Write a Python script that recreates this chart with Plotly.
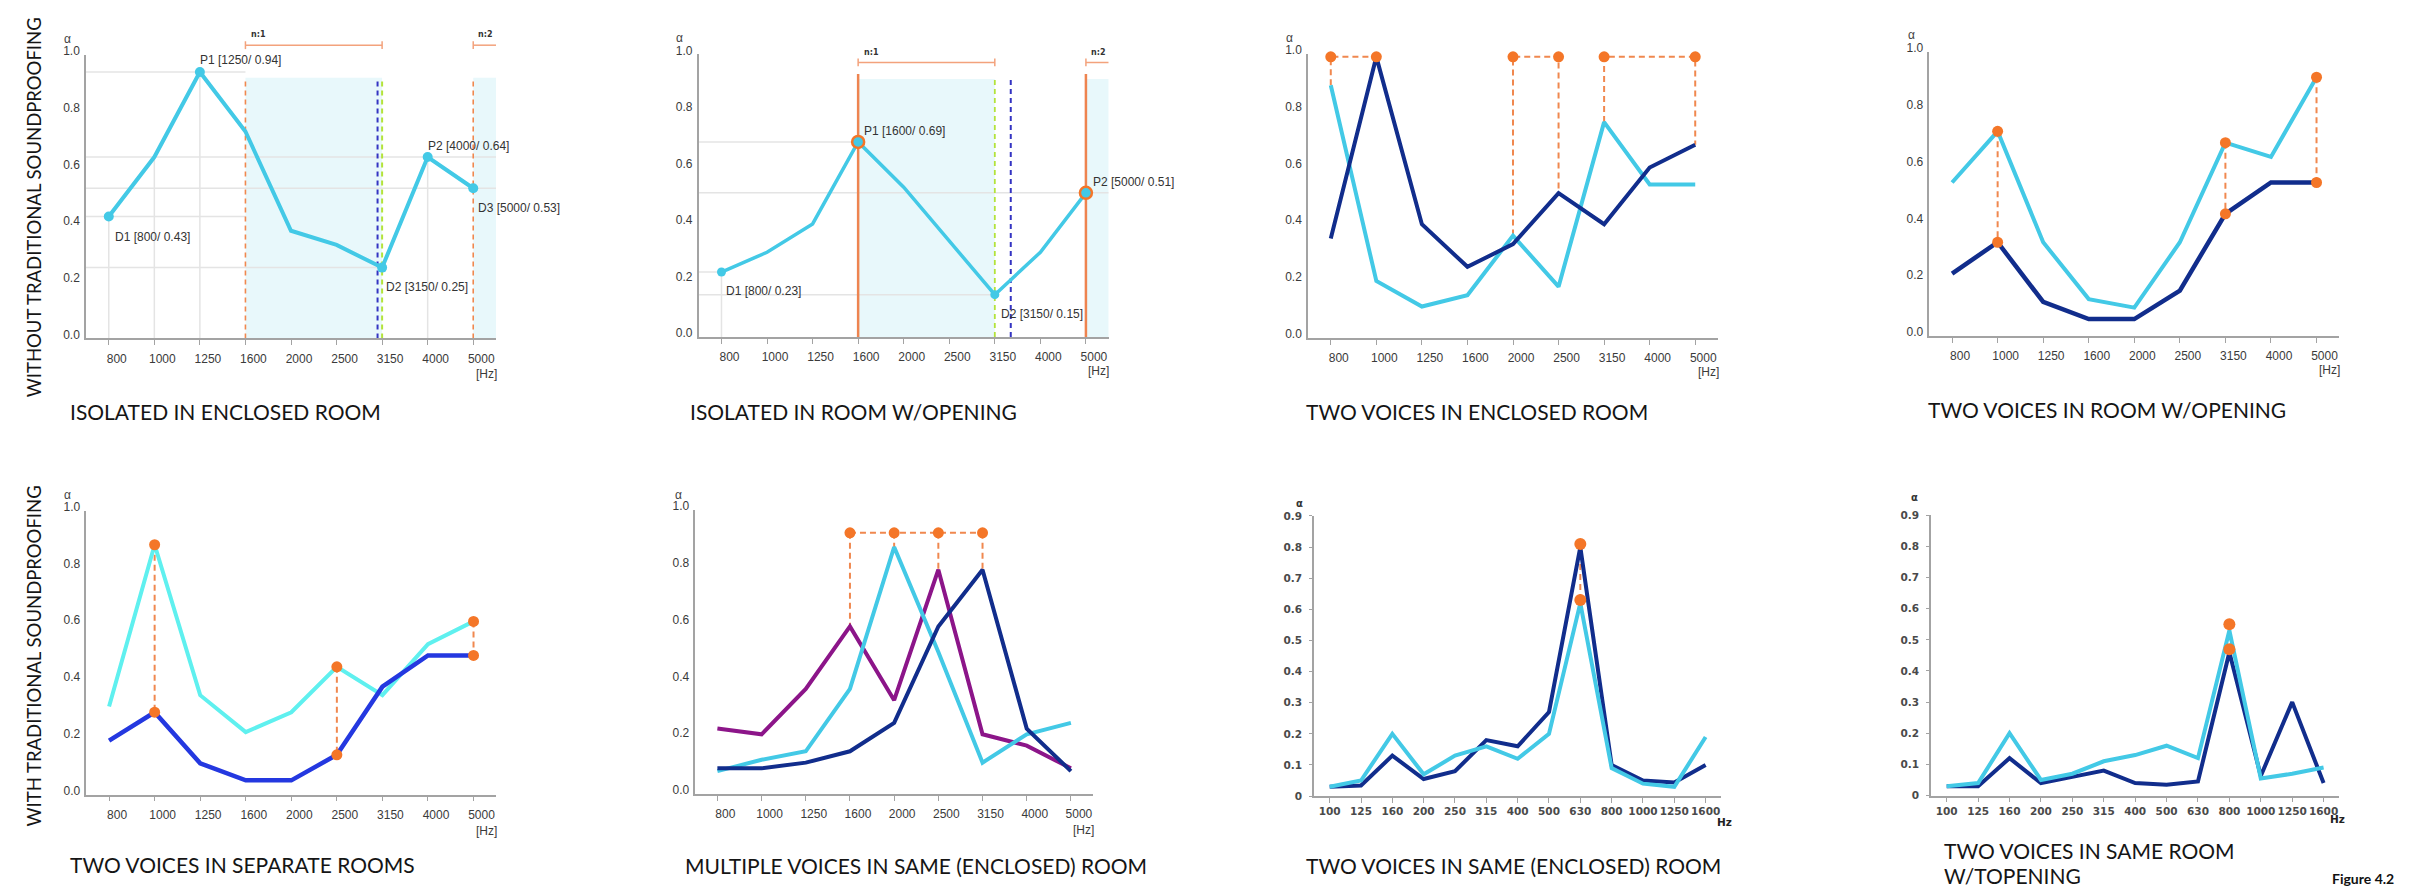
import plotly.graph_objects as go

W, H = 2423, 887

# ---------------- data ----------------
freq_hi = ["800", "1000", "1250", "1600", "2000", "2500", "3150", "4000", "5000"]
freq_lo = ["100", "125", "160", "200", "250", "315", "400", "500", "630", "800", "1000", "1250", "1600"]
y_hi_ticks = [0.0, 0.2, 0.4, 0.6, 0.8, 1.0]
y_lo_ticks = [0, 0.1, 0.2, 0.3, 0.4, 0.5, 0.6, 0.7, 0.8, 0.9]
y_lo_text = ["0", "0.1", "0.2", "0.3", "0.4", "0.5", "0.6", "0.7", "0.8", "0.9"]

iso_enclosed = [0.43, 0.64, 0.94, 0.73, 0.38, 0.33, 0.25, 0.64, 0.53]
iso_enclosed_marks = [("D1", "800"), ("P1", "1250"), ("D2", "3150"), ("P2", "4000"), ("D3", "5000")]
iso_opening = [0.23, 0.30, 0.40, 0.69, 0.53, 0.34, 0.15, 0.30, 0.51]
iso_opening_marks = [("D1", "800"), ("P1", "1600"), ("D2", "3150"), ("P2", "5000")]

two_encl_cyan = [0.89, 0.20, 0.11, 0.15, 0.36, 0.18, 0.76, 0.54, 0.54]
two_encl_navy = [0.35, 0.99, 0.40, 0.25, 0.33, 0.51, 0.40, 0.60, 0.68]
two_encl_pairs = [("800", "1000"), ("2000", "2500"), ("3150", "5000")]
two_encl_level = 0.99

two_open_cyan = [0.54, 0.72, 0.33, 0.13, 0.10, 0.33, 0.68, 0.63, 0.91]
two_open_navy = [0.22, 0.33, 0.12, 0.06, 0.06, 0.16, 0.43, 0.54, 0.54]
two_open_gaps = ["1000", "3150", "5000"]

sep_cyan = [0.31, 0.88, 0.35, 0.22, 0.29, 0.45, 0.35, 0.53, 0.61]
sep_blue = [0.19, 0.29, 0.11, 0.05, 0.05, 0.14, 0.38, 0.49, 0.49]
sep_gaps = ["1000", "2500", "5000"]

multi_cyan = [0.08, 0.12, 0.15, 0.37, 0.87, 0.50, 0.11, 0.21, 0.25]
multi_purple = [0.23, 0.21, 0.37, 0.59, 0.33, 0.79, 0.21, 0.17, 0.09]
multi_navy = [0.09, 0.09, 0.11, 0.15, 0.25, 0.59, 0.79, 0.23, 0.08]
multi_peaks = [("1600", "purple"), ("2000", "cyan"), ("2500", "purple"), ("3150", "navy")]
multi_level = 0.92

same_encl_navy = [0.03, 0.034, 0.13, 0.055, 0.08, 0.18, 0.16, 0.27, 0.80, 0.10, 0.05, 0.044, 0.10]
same_encl_cyan = [0.03, 0.05, 0.20, 0.07, 0.13, 0.16, 0.12, 0.20, 0.62, 0.09, 0.04, 0.03, 0.19]
same_encl_peak = ("630", [0.81, 0.63])

same_open_navy = [0.03, 0.03, 0.12, 0.04, 0.06, 0.08, 0.04, 0.035, 0.045, 0.46, 0.063, 0.30, 0.04]
same_open_cyan = [0.03, 0.04, 0.20, 0.05, 0.07, 0.11, 0.13, 0.16, 0.12, 0.53, 0.055, 0.07, 0.09]
same_open_peak = ("800", [0.55, 0.47])

titles = ["ISOLATED IN ENCLOSED ROOM", "ISOLATED IN ROOM W/OPENING",
          "TWO VOICES IN ENCLOSED ROOM", "TWO VOICES IN ROOM W/OPENING",
          "TWO VOICES IN SEPARATE ROOMS", "MULTIPLE VOICES IN SAME (ENCLOSED) ROOM",
          "TWO VOICES IN SAME (ENCLOSED) ROOM", "TWO VOICES IN SAME ROOM", "W/TOPENING"]
row_labels = ["WITHOUT TRADITIONAL SOUNDPROOFING", "WITH TRADITIONAL SOUNDPROOFING"]

# ---------------- style ----------------
CYAN = "#43c9e6"
NAVY = "#112d8c"
AQUA = "#5ff0ef"
BLUE = "#2438e0"
PURPLE = "#8c1589"
ORANGE = "#f47628"
ORANGE_L = "#f0884f"
SHADE = "#e8f8fb"
GRID = "#e4e4e4"
AXIS = "#a3a3a3"
GREEN = "#b3e33a"
DBLUE = "#3434c2"
NUM_FAMILY = "Liberation Sans Narrow, Liberation Sans, Arial, sans-serif"
TICK_FONT = dict(family=NUM_FAMILY, size=12, color="#3a3a3a")
LOW_FONT = dict(family="DejaVu Sans, Verdana, sans-serif", size=10.5, color="#4a4a4a", weight="bold")
TITLE_FONT = dict(family="Lato, sans-serif", size=21, color="#151515")


def fx(p):
    return p / W


def fy(p):
    return 1 - p / H


# panel geometry in pixels: left, right, bottom (value 0), top (range max)
panels = [
    dict(l=78, r=488, b=325.7, t=36.7, cats=freq_hi, ymax=1.0),
    dict(l=690.7, r=1100.7, b=324.3, t=36, cats=freq_hi, ymax=1.0),
    dict(l=1300, r=1710, b=325, t=35.7, cats=freq_hi, ymax=1.0),
    dict(l=1921.3, r=2331.3, b=323.3, t=33.3, cats=freq_hi, ymax=1.0),
    dict(l=78.3, r=488.3, b=790.7, t=501.3, cats=freq_hi, ymax=1.0),
    dict(l=687.3, r=1085, b=790, t=500.7, cats=freq_hi, ymax=1.0),
    dict(l=1306, r=1713.3, b=792.3, t=506.7, cats=freq_lo, ymax=0.9),
    dict(l=1923, r=2331.3, b=791.7, t=506, cats=freq_lo, ymax=0.9),
]

fig = go.Figure()
layout = dict(width=W, height=H, margin=dict(l=0, r=0, t=0, b=0),
              paper_bgcolor="white", plot_bgcolor="white", showlegend=False)

for k, p in enumerate(panels, start=1):
    sfx = "" if k == 1 else str(k)
    n = len(p["cats"])
    lo = k >= 7
    xa = dict(domain=[fx(p["l"]), fx(p["r"])], range=[-0.5, n - 0.5], anchor="y" + sfx,
              tickmode="array", tickvals=list(range(n)), ticktext=p["cats"],
              showline=True, linecolor=AXIS, linewidth=1.5, ticks="outside", ticklen=5,
              tickcolor=AXIS, tickwidth=1.2, showgrid=False, zeroline=False,
              tickfont=LOW_FONT if lo else TICK_FONT, fixedrange=True)
    if not lo:
        xa["ticklabelshift"] = 8
        xa["ticklabelstandoff"] = 3
    ya = dict(domain=[fy(p["b"]), fy(p["t"])], range=[0, p["ymax"]], anchor="x" + sfx,
              showline=True, linecolor=AXIS, linewidth=1.5, showgrid=False, zeroline=False,
              fixedrange=True)
    if lo:
        ya.update(tickmode="array", tickvals=y_lo_ticks, ticktext=y_lo_text, ticks="outside",
                  ticklen=3, tickcolor=AXIS, tickfont=LOW_FONT, ticklabelstandoff=5)
    else:
        ya.update(tickmode="array", tickvals=y_hi_ticks, tickformat=".1f", ticks="",
                  tickfont=TICK_FONT, ticklabelshift=-4, ticklabelstandoff=2)
    layout["xaxis" + sfx] = xa
    layout["yaxis" + sfx] = ya


def refs(k):
    return ("x" if k == 1 else f"x{k}", "y" if k == 1 else f"y{k}")


def series(k, ys, color, width=4):
    xa, ya = refs(k)
    fig.add_trace(go.Scatter(x=list(range(len(ys))), y=ys, mode="lines",
                             line=dict(color=color, width=width), xaxis=xa, yaxis=ya,
                             hoverinfo="skip"))


def dashed(k, xs, ys, color=ORANGE_L, width=2):
    xa, ya = refs(k)
    fig.add_trace(go.Scatter(x=xs, y=ys, mode="lines",
                             line=dict(color=color, width=width, dash="6px,4px"),
                             xaxis=xa, yaxis=ya, hoverinfo="skip"))


def dots(k, xs, ys, color=ORANGE, size=11, line=None):
    xa, ya = refs(k)
    fig.add_trace(go.Scatter(x=xs, y=ys, mode="markers", cliponaxis=False,
                             marker=dict(color=color, size=size,
                                         line=line or dict(width=0)),
                             xaxis=xa, yaxis=ya, hoverinfo="skip"))


shapes = []
annotations = []


def vline(k, x, y0, y1, color, width, dash="solid"):
    xa, ya = refs(k)
    shapes.append(dict(type="line", xref=xa, yref=ya, x0=x, x1=x, y0=y0, y1=y1,
                       line=dict(color=color, width=width, dash=dash), layer="below"))


def hline(k, y, x0, x1, color=GRID, width=1.5):
    xa, ya = refs(k)
    shapes.append(dict(type="line", xref=xa, yref=ya, x0=x0, x1=x1, y0=y, y1=y,
                       line=dict(color=color, width=width), layer="below"))


def rect(k, x0, x1, y1):
    xa, ya = refs(k)
    shapes.append(dict(type="rect", xref=xa, yref=ya, x0=x0, x1=x1, y0=0, y1=y1,
                       fillcolor=SHADE, line=dict(width=0), layer="below"))


def bracket(k, x0, x1, ypx, label, label_left_shift, label_ypx, end_tick=True):
    xa, _ = refs(k)
    y = fy(ypx)
    shapes.append(dict(type="line", xref=xa, yref="paper", x0=x0, x1=x1, y0=y, y1=y,
                       line=dict(color="#f3a27c", width=1.5)))
    ticks_at = [x0, x1] if end_tick else [x0]
    for xt in ticks_at:
        shapes.append(dict(type="line", xref=xa, yref="paper", x0=xt, x1=xt,
                           y0=fy(ypx - 4), y1=fy(ypx + 4),
                           line=dict(color="#f3a27c", width=1.5)))
    annotations.append(dict(text=label, xref=xa, yref="paper", x=x0, y=fy(label_ypx),
                            xshift=label_left_shift, xanchor="left", yanchor="middle",
                            showarrow=False,
                            font=dict(family="DejaVu Sans, sans-serif", size=8,
                                      color="#333", weight="bold")))


def text_px(text, xpx, ypx, font, xanchor="left", angle=0):
    annotations.append(dict(text=text, xref="paper", yref="paper", x=fx(xpx), y=fy(ypx),
                            xanchor=xanchor, yanchor="middle", showarrow=False,
                            font=font, textangle=angle))


def point_label(k, name, cat, val, xshift, yshift):
    xa, ya = refs(k)
    annotations.append(dict(text=f"{name} [{cat}/ {val:.2f}]", xref=xa, yref=ya,
                            x=freq_hi.index(cat), y=val, xshift=xshift, yshift=yshift,
                            xanchor="left", yanchor="middle", showarrow=False,
                            font=dict(family=NUM_FAMILY, size=12, color="#333")))


# ---------- panel 1 ----------
rect(1, 3, 6, 0.92)
rect(1, 8, 8.5, 0.92)
hline(1, iso_enclosed[2], -0.5, 3)
hline(1, iso_enclosed[0], -0.5, 3)
hline(1, iso_enclosed[6], -0.5, 6)
hline(1, iso_enclosed[7], -0.5, 8.5)
hline(1, iso_enclosed[8], -0.5, 8.5)
for cat in ["800", "1000", "1250", "4000"]:
    i = freq_hi.index(cat)
    vline(1, i, 0, iso_enclosed[i], GRID, 1.5)
vline(1, 3, 0, 0.92, ORANGE_L, 1.6, "5px,4px")
vline(1, 8, 0, 0.92, ORANGE_L, 1.6, "5px,4px")
vline(1, 5.9, 0, 0.92, DBLUE, 2, "5px,4px")
vline(1, 6.0, 0, 0.92, GREEN, 2, "5px,4px")
bracket(1, 3, 6, 26.7, "n:1", 4, 16)
bracket(1, 8, 8.5, 26.7, "n:2", 3, 16, end_tick=False)
series(1, iso_enclosed, CYAN, 4)
mx = [freq_hi.index(c) for _, c in iso_enclosed_marks]
dots(1, mx, [iso_enclosed[i] for i in mx], color=CYAN, size=10)
offs1 = {"D1": (4, -20), "P1": (-2, 12), "D2": (2, -19), "P2": (-2, 11), "D3": (3, -20)}
for name, cat in iso_enclosed_marks:
    point_label(1, name, cat, iso_enclosed[freq_hi.index(cat)], *offs1[name])

# ---------- panel 2 ----------
rect(2, 3, 6, 0.913)
rect(2, 8, 8.5, 0.913)
hline(2, iso_opening[3], -0.5, 3)
hline(2, iso_opening[8], -0.5, 8.5)
hline(2, iso_opening[0], -0.5, 0)
hline(2, iso_opening[6], -0.5, 6)
vline(2, 0, 0, iso_opening[0], GRID, 1.5)
vline(2, 3, 0, 0.93, "#ee8450", 2.5)
vline(2, 8, 0, 0.93, "#ee8450", 2.5)
vline(2, 6.0, 0, 0.913, GREEN, 1.8, "5px,4px")
vline(2, 6.35, 0, 0.913, DBLUE, 2, "5px,4px")
bracket(2, 3, 6, 44.3, "n:1", 4, 34.3)
bracket(2, 8, 8.5, 44.3, "n:2", 3, 34.3, end_tick=False)
series(2, iso_opening, CYAN, 3.5)
for name, cat in iso_opening_marks:
    i = freq_hi.index(cat)
    if name.startswith("P"):
        dots(2, [i], [iso_opening[i]], color=CYAN, size=12, line=dict(color=ORANGE, width=2.5))
    else:
        dots(2, [i], [iso_opening[i]], color=CYAN, size=9)
offs2 = {"D1": (3, -19), "P1": (4, 11), "D2": (4, -19), "P2": (5, 11)}
for name, cat in iso_opening_marks:
    point_label(2, name, cat, iso_opening[freq_hi.index(cat)], *offs2[name])

# ---------- panel 3 ----------
top_x = []
for a, b in two_encl_pairs:
    ia, ib = freq_hi.index(a), freq_hi.index(b)
    dashed(3, [ia, ia, ib, ib], [two_encl_cyan[ia], two_encl_level, two_encl_level, two_encl_navy[ib]])
    top_x += [ia, ib]
series(3, two_encl_cyan, CYAN)
series(3, two_encl_navy, NAVY)
dots(3, top_x, [two_encl_level] * len(top_x))

# ---------- panel 4 ----------
gx = [freq_hi.index(c) for c in two_open_gaps]
for i in gx:
    dashed(4, [i, i], [two_open_cyan[i], two_open_navy[i]])
series(4, two_open_cyan, CYAN)
series(4, two_open_navy, NAVY, 4.5)
dots(4, gx + gx, [two_open_cyan[i] for i in gx] + [two_open_navy[i] for i in gx])

# ---------- panel 5 ----------
gx = [freq_hi.index(c) for c in sep_gaps]
for i in gx:
    dashed(5, [i, i], [sep_cyan[i], sep_blue[i]])
series(5, sep_cyan, AQUA)
series(5, sep_blue, BLUE, 4.5)
dots(5, gx + gx, [sep_cyan[i] for i in gx] + [sep_blue[i] for i in gx])

# ---------- panel 6 ----------
multi_map = {"cyan": multi_cyan, "purple": multi_purple, "navy": multi_navy}
px6 = [freq_hi.index(c) for c, _ in multi_peaks]
dashed(6, [px6[0], px6[-1]], [multi_level, multi_level])
for (c, s), i in zip(multi_peaks, px6):
    dashed(6, [i, i], [multi_level, multi_map[s][i]])
series(6, multi_purple, PURPLE)
series(6, multi_cyan, CYAN)
series(6, multi_navy, NAVY)
dots(6, px6, [multi_level] * len(px6))

# ---------- panel 7 ----------
i7 = freq_lo.index(same_encl_peak[0])
dashed(7, [i7, i7], same_encl_peak[1])
series(7, same_encl_navy, NAVY)
series(7, same_encl_cyan, CYAN)
dots(7, [i7, i7], same_encl_peak[1], size=12)

# ---------- panel 8 ----------
i8 = freq_lo.index(same_open_peak[0])
dashed(8, [i8, i8], same_open_peak[1])
series(8, same_open_navy, NAVY)
series(8, same_open_cyan, CYAN)
dots(8, [i8, i8], same_open_peak[1], size=12)

# ---------- texts ----------
title_pos = [(60, 400), (680, 400), (1296, 400), (1918, 398),
             (60, 862), (675, 863), (1296, 863), (1934, 848), (1934, 873)]
for t, (x, y) in zip(titles, title_pos):
    text_px(t, x, y, TITLE_FONT)

row_font = dict(family="Lato, sans-serif", size=18.5, color="#151515")
text_px(row_labels[0], 26, 192, row_font, xanchor="center", angle=-90)
text_px(row_labels[1], 26, 650, row_font, xanchor="center", angle=-90)

alpha_pos = [(60, 20), (671.7, 19.3), (1281.7, 19.3), (1903, 16.7), (60, 485), (670, 485)]
for x, y in alpha_pos:
    text_px("α", x, y, dict(family=NUM_FAMILY, size=12, color="#444"), xanchor="center")
for x, y in [(1291.7, 494.3), (1906.3, 488.3)]:
    text_px("α", x, y, dict(family="DejaVu Sans, sans-serif", size=10, color="#333",
                            weight="bold"), xanchor="center")

hz_pos = [(478, 362), (1090.7, 359.3), (1700, 360), (2321, 358.3), (478.3, 828.3), (1075, 827.3)]
for x, y in hz_pos:
    text_px("[Hz]", x, y, TICK_FONT, xanchor="center")
for x, y in [(1716.7, 818.3), (2329.7, 816)]:
    text_px("Hz", x, y, dict(family="DejaVu Sans, sans-serif", size=10.5, color="#222",
                             weight="bold"), xanchor="center")

annotations.append(dict(text="Figure 4.2", xref="paper", yref="paper", x=fx(2322), y=0,
                        xanchor="left", yanchor="bottom", showarrow=False,
                        font=dict(family="Lato, sans-serif", size=14, color="#111",
                                  weight="bold")))

layout["shapes"] = shapes
layout["annotations"] = annotations
fig.update_layout(**layout)
fig.update_traces(showlegend=False)
fig.write_html("out.html")
